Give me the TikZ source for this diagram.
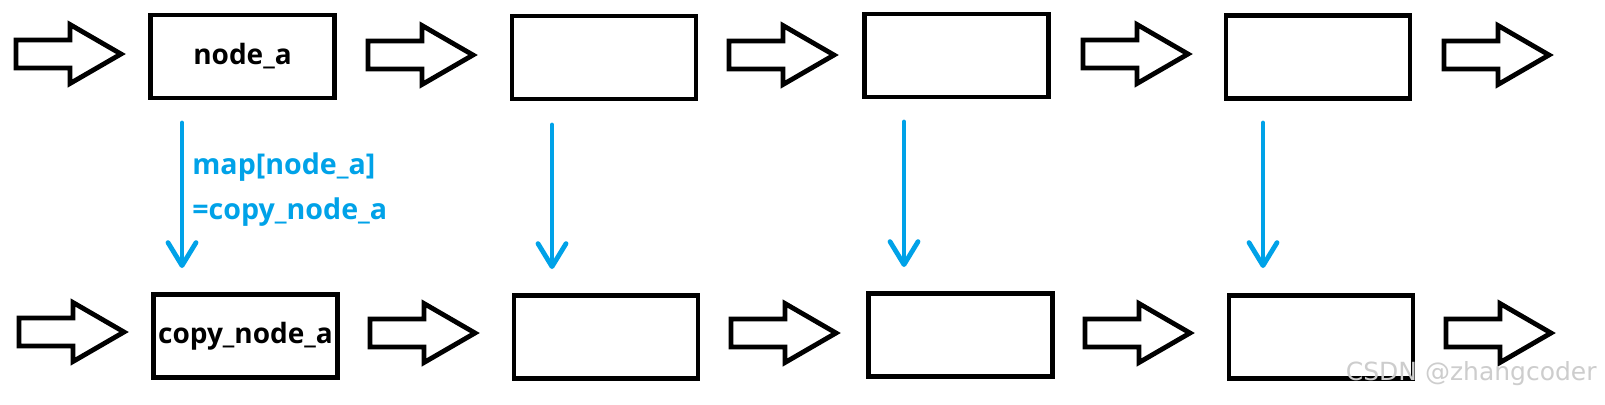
\documentclass[tikz,border=0pt]{standalone}
\usepackage{fontspec}
\setmainfont{Open Sans}
\newfontfamily\wmfont{DejaVu Sans}
\usetikzlibrary{arrows.meta}
\definecolor{mapblue}{RGB}{0,162,232}
\definecolor{wmgray}{RGB}{205,205,205}
\tikzset{
  box/.style={draw, line width=2.4pt, minimum width=92pt, minimum height=41.5pt, inner sep=0pt,
    font=\bfseries\fontsize{14}{17}\selectfont},
  blk/.style={draw, line width=2.4pt, line join=miter},
  blockarrow/.pic={\draw[blk] (2,-14) -- (56,-14) -- (56,-29.5) -- (107,0) -- (56,29.5) -- (56,14) -- (2,14) -- cycle;},
  mapline/.style={draw=mapblue, line width=2.4pt, line cap=round,
    -{Straight Barb[length=11.5pt,width=14pt,round]}},
  maptext/.style={text=mapblue, inner sep=0pt, anchor=base west,
    font=\bfseries\fontsize{14.3}{17}\selectfont},
}
\begin{document}
\begin{tikzpicture}[x=0.5pt,y=-0.5pt]
\useasboundingbox (0,0) rectangle (1605,404);
\fill[white] (0,0) rectangle (1605,404);
% top row boxes
\node[box] (t1) at (242.5,56.5) {node\_a};
\node[box] (t2) at (604,57.5) {};
\node[box] (t3) at (956.5,55.5) {};
\node[box] (t4) at (1318,57) {};
% bottom row boxes
\node[box] (b1) at (245.5,336) {copy\_node\_a};
\node[box] (b2) at (606,337) {};
\node[box] (b3) at (960.5,335) {};
\node[box] (b4) at (1321,337) {};
% block arrows top
\pic at (14,54) {blockarrow};
\pic at (366,55) {blockarrow};
\pic at (727,55) {blockarrow};
\pic at (1081,54) {blockarrow};
\pic at (1442,55) {blockarrow};
% block arrows bottom
\pic at (17,332) {blockarrow};
\pic at (368,333) {blockarrow};
\pic at (729,333) {blockarrow};
\pic at (1083,333) {blockarrow};
\pic at (1444,333) {blockarrow};
% mapping arrows
\coordinate (s1) at (182,123); \coordinate (e1) at (182,268);
\coordinate (s2) at (552,125); \coordinate (e2) at (552,269);
\coordinate (s3) at (904,122); \coordinate (e3) at (904,267);
\coordinate (s4) at (1263,123); \coordinate (e4) at (1263,268);
\draw[mapline] (s1) -- (e1);
\draw[mapline] (s2) -- (e2);
\draw[mapline] (s3) -- (e3);
\draw[mapline] (s4) -- (e4);
\node[maptext] (l1) at (192,174) {map[node\_a]};
\node[maptext] (l2) at (192,219) {=copy\_node\_a};
% watermark
\node[font=\wmfont\fontsize{12.5}{15}\selectfont, text=wmgray, anchor=base east, inner sep=0pt] (wm) at (1597,380) {CSDN @zhangcoder};
\end{tikzpicture}
\end{document}
